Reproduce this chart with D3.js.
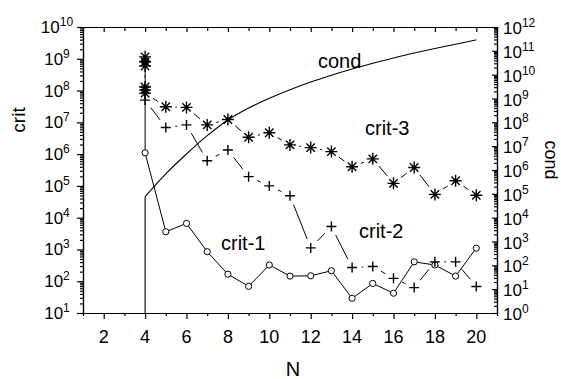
<!DOCTYPE html>
<html><head><meta charset="utf-8">
<script src="https://cdn.jsdelivr.net/npm/d3@7"></script>
<style>body{margin:0;background:#fff}svg{display:block;font-family:"Liberation Sans",Arial,sans-serif}</style>
</head><body>
<svg id="c" width="561" height="379"></svg>
<script>
// ---- data ----
const crit1N = [4,4,5,6,7,8,9,10,11,12,13,14,15,16,17,18,19,20];
const crit1  = [8.1e8,1.1e6,3600,6600,850,166,69,324,145,148,214,29,85,42,407,324,145,1100];
const crit2N = [4,5,6,7,8,9,10,11,12,13,14,15,16,17,18,19,20];
const crit2  = [5.0e7,6.9e6,8.3e6,6.2e5,1.35e6,1.95e5,1.0e5,4.9e4,1120,5250,270,290,123,63,407,407,68];
const crit3N = [4,4,4,4,4,4,5,6,7,8,9,10,11,12,13,14,15,16,17,18,19,20];
const crit3  = [1.15e9,8.1e8,5.9e8,1.3e8,1.05e8,8.3e7,3.1e7,2.95e7,8.3e6,1.23e7,3.4e6,4.7e6,1.95e6,1.6e6,1.2e6,4.0e5,7.1e5,1.2e5,3.8e5,5.4e4,1.45e5,5.1e4];
const condStartN = [4,4];
const condStart  = [1,7.6e4];
const condN = [4,5,6,7,8,9,10,11,12,13,14,15,16,17,18,19,20];
const cond  = [7.6e4,6.9e5,4.7e6,2.75e7,1.26e8,4.0e8,1.02e9,2.35e9,4.9e9,9.5e9,1.74e10,3.0e10,5.0e10,8.1e10,1.26e11,1.9e11,2.9e11];
const xMajor = [2,4,6,8,10,12,14,16,18,20];
const xMinor = [1,3,5,7,9,11,13,15,17,19,21];
const leftExp = [1,2,3,4,5,6,7,8,9,10];
const rightExp = [0,1,2,3,4,5,6,7,8,9,10,11,12];

// ---- scales ----
const svg = d3.select("#c");
const x  = d3.scaleLinear().domain([1,21]).range([83,497]);
const yL = d3.scaleLog().domain([10,1e10]).range([313,27]);
const yR = d3.scaleLog().domain([1,1e12]).range([313,27]);

function minorLog(exps){const a=[];exps.slice(0,-1).forEach(e=>{for(let k=2;k<=9;k++)a.push(k*Math.pow(10,e));});return a;}

const g = svg.append("g");
function styleAxis(sel){sel.selectAll("path,line").attr("stroke","#000").attr("stroke-width",1.2);sel.selectAll("text").remove();}

// bottom
g.append("g").attr("transform","translate(0,313)").call(d3.axisBottom(x).tickValues(xMajor).tickSizeInner(6).tickSizeOuter(0).tickFormat("")).call(styleAxis);
g.append("g").attr("transform","translate(0,313)").call(d3.axisBottom(x).tickValues(xMinor).tickSizeInner(3).tickSizeOuter(0).tickFormat("")).call(styleAxis);
// top
g.append("g").attr("transform","translate(0,27)").call(d3.axisTop(x).tickValues(xMajor).tickSizeInner(-5).tickSizeOuter(0).tickFormat("")).call(styleAxis);
g.append("g").attr("transform","translate(0,27)").call(d3.axisTop(x).tickValues(xMinor).tickSizeInner(-4).tickSizeOuter(0).tickFormat("")).call(styleAxis);
// left
g.append("g").attr("transform","translate(83,0)").call(d3.axisLeft(yL).tickValues(leftExp.map(e=>Math.pow(10,e))).tickSizeInner(6).tickSizeOuter(0).tickFormat("")).call(styleAxis);
g.append("g").attr("transform","translate(83,0)").call(d3.axisLeft(yL).tickValues(minorLog(leftExp)).tickSizeInner(3).tickSizeOuter(0).tickFormat("")).call(styleAxis);
// right
g.append("g").attr("transform","translate(497,0)").call(d3.axisRight(yR).tickValues(rightExp.map(e=>Math.pow(10,e))).tickSizeInner(-5).tickSizeOuter(0).tickFormat("")).call(styleAxis);
g.append("g").attr("transform","translate(497,0)").call(d3.axisRight(yR).tickValues(minorLog(rightExp)).tickSizeInner(-3).tickSizeOuter(0).tickFormat("")).call(styleAxis);

// tick labels
const FS = 17, SS = 12;
svg.append("g").selectAll("text").data(xMajor).join("text")
  .attr("x",d=>x(d)).attr("y",343).attr("text-anchor","middle").attr("font-size",FS+1).text(d=>d);
function powLabel(sel){
  sel.append("tspan").text("10");
  sel.append("tspan").attr("dy",-7).attr("font-size",SS).text(d=>d);
}
svg.append("g").selectAll("text").data(leftExp).join("text")
  .attr("x",57).attr("y",d=>yL(Math.pow(10,d))+6).attr("text-anchor","middle").attr("font-size",FS).call(powLabel);
svg.append("g").selectAll("text").data(rightExp).join("text")
  .attr("x",503).attr("y",d=>yR(Math.pow(10,d))+7).attr("text-anchor","start").attr("font-size",FS).call(powLabel);

// axis titles
svg.append("text").attr("transform","translate(25,120) rotate(-90)").attr("text-anchor","middle").attr("font-size",19).text("crit");
svg.append("text").attr("transform","translate(545,160) rotate(90)").attr("text-anchor","middle").attr("font-size",18).text("cond");
svg.append("text").attr("x",293).attr("y",376).attr("text-anchor","middle").attr("font-size",20).text("N");

// cond line
svg.append("path").attr("d",d3.line().x(d=>x(d[0])).y(d=>yR(d[1]))(d3.zip(condStartN,condStart)))
  .attr("fill","none").attr("stroke","#000").attr("stroke-width",1.1);
svg.append("path").attr("d",d3.line().curve(d3.curveMonotoneX).x(d=>x(d[0])).y(d=>yR(d[1]))(d3.zip(condN,cond)))
  .attr("fill","none").attr("stroke","#000").attr("stroke-width",1.1);

// gapped connecting lines
function gapLines(Ns,vals,gap){
  const pts = Ns.map((n,i)=>[x(n),yL(vals[i])]);
  const gg = svg.append("g").attr("stroke","#000").attr("stroke-width",1);
  for(let i=0;i<pts.length-1;i++){
    const [x1,y1]=pts[i],[x2,y2]=pts[i+1];
    const d=Math.hypot(x2-x1,y2-y1); if(d<=2*gap) continue;
    const ux=(x2-x1)/d, uy=(y2-y1)/d;
    gg.append("line").attr("x1",x1+ux*gap).attr("y1",y1+uy*gap).attr("x2",x2-ux*gap).attr("y2",y2-uy*gap);
  }
}
gapLines(crit1N,crit1,3.2);
gapLines(crit2N,crit2,9.5);
gapLines(crit3N,crit3,9.5);

// markers
svg.append("g").selectAll("circle").data(d3.zip(crit1N,crit1)).join("circle")
  .attr("cx",d=>x(d[0])).attr("cy",d=>yL(d[1])).attr("r",3.1)
  .attr("fill","#fff").attr("stroke","#000").attr("stroke-width",1);
svg.append("g").selectAll("path").data(d3.zip(crit2N,crit2)).join("path")
  .attr("transform",d=>`translate(${x(d[0])},${yL(d[1])})`)
  .attr("d","M-5,0H5M0,-5V5").attr("stroke","#000").attr("stroke-width",1.4).attr("fill","none");
svg.append("g").selectAll("path").data(d3.zip(crit3N,crit3)).join("path")
  .attr("transform",d=>`translate(${x(d[0])},${yL(d[1])})`)
  .attr("d","M0,-6V6M-6,0H6M-4.2,-4.2L4.2,4.2M-4.2,4.2L4.2,-4.2").attr("stroke","#000").attr("stroke-width",1.4).attr("fill","none");

// series labels
const lab = svg.append("g").attr("font-size",20);
lab.append("text").attr("x",318).attr("y",68).text("cond");
lab.append("text").attr("x",365).attr("y",135).text("crit-3");
lab.append("text").attr("x",221).attr("y",250).text("crit-1");
lab.append("text").attr("x",359).attr("y",238).text("crit-2");
</script>
</body></html>
